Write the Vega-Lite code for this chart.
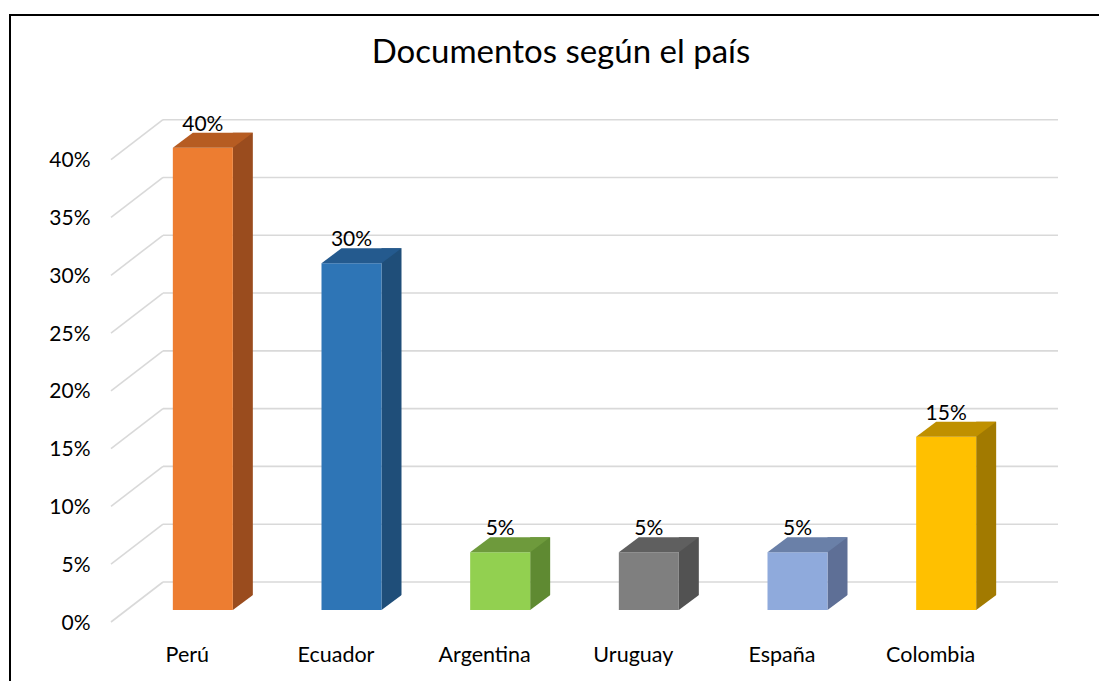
{
  "$schema": "https://vega.github.io/schema/vega-lite/v6.json",
  "autosize": "none",
  "width": 1102,
  "height": 680,
  "padding": {"left": 10, "top": 15, "right": 0, "bottom": 0},
  "background": "white",
  "config": {
    "view": {"stroke": "black", "strokeWidth": 2},
    "font": "Lato"
  },
  "title": {
    "text": "Documentos según el país",
    "font": "Lato",
    "fontSize": 33,
    "fontWeight": "normal",
    "color": "#000000",
    "anchor": "middle",
    "baseline": "alphabetic",
    "offset": -81
  },
  "datasets": {
    "bars": [
      {"pais": "Perú", "valor": 0.40},
      {"pais": "Ecuador", "valor": 0.30},
      {"pais": "Argentina", "valor": 0.05},
      {"pais": "Uruguay", "valor": 0.05},
      {"pais": "España", "valor": 0.05},
      {"pais": "Colombia", "valor": 0.15}
    ],
    "ticks": [
      {"v": 0}, {"v": 0.05}, {"v": 0.10}, {"v": 0.15}, {"v": 0.20},
      {"v": 0.25}, {"v": 0.30}, {"v": 0.35}, {"v": 0.40}
    ]
  },
  "resolve": {"scale": {"color": "independent"}},
  "layer": [
    {
      "data": {"name": "ticks"},
      "mark": {"type": "rule", "color": "#D9D9D9", "strokeWidth": 1.6, "xOffset": 50, "x2Offset": 53, "yOffset": -28},
      "encoding": {
        "x": {"datum": "Perú", "bandPosition": 0, "type": "nominal", "scale": {"domain": ["Perú", "Ecuador", "Argentina", "Uruguay", "España", "Colombia"], "range": [103, 995], "paddingInner": 0, "paddingOuter": 0},
          "axis": {"title": null, "orient": "bottom", "offset": -34, "domain": false, "ticks": false, "tickSize": 0, "labelPadding": 0, "labelBaseline": "alphabetic", "labelFont": "Lato", "labelFontSize": 21.5, "labelColor": "#000000", "labelAngle": 0, "grid": false}},
        "x2": {"datum": "Colombia", "bandPosition": 1},
        "y": {"field": "v", "type": "quantitative", "scale": {"domain": [0, 0.4], "range": [595, 132.7], "nice": false, "zero": true},
          "axis": {"title": null, "format": ".0%", "values": [0, 0.05, 0.1, 0.15, 0.2, 0.25, 0.3, 0.35, 0.4], "offset": -88, "domain": false, "ticks": false, "tickSize": 0, "labelPadding": 8, "labelOffset": 13, "labelBaseline": "middle", "labelFont": "Lato", "labelFontSize": 21, "labelColor": "#000000", "grid": false}}
      }
    },
    {
      "data": {"name": "ticks"},
      "mark": {"type": "rule", "color": "#D9D9D9", "strokeWidth": 1.6, "xOffset": -2, "x2Offset": 50, "yOffset": 12, "y2Offset": -28},
      "encoding": {
        "x": {"datum": "Perú", "bandPosition": 0, "type": "nominal"},
        "x2": {"datum": "Perú", "bandPosition": 0},
        "y": {"field": "v", "type": "quantitative"},
        "y2": {"field": "v"}
      }
    },
    {
      "data": {"name": "bars"},
      "mark": {"type": "bar", "width": 20, "xOffset": 55.5, "yOffset": -15},
      "encoding": {
        "x": {"field": "pais", "type": "nominal"},
        "y": {"field": "valor", "type": "quantitative"},
        "y2": {"datum": 0},
        "color": {"field": "pais", "type": "nominal", "legend": null,
          "scale": {"domain": ["Perú", "Ecuador", "Argentina", "Uruguay", "España", "Colombia"], "range": ["#9A4C1E", "#1F4E79", "#5F8A32", "#525252", "#5E6F96", "#A27A00"]}}
      }
    },
    {
      "data": {"name": "bars"},
      "mark": {"type": "point", "shape": "M30,0L50.5,-15.3L51,-15.3L51,1L29.5,1Z", "size": 4, "filled": true, "opacity": 1, "strokeWidth": 0, "color": "white", "xOffset": 15.5},
      "encoding": {
        "x": {"field": "pais", "type": "nominal"},
        "y": {"datum": 0, "type": "quantitative"}
      }
    },
    {
      "data": {"name": "bars"},
      "mark": {"type": "bar", "width": 60, "xOffset": 15.5},
      "encoding": {
        "x": {"field": "pais", "type": "nominal"},
        "y": {"field": "valor", "type": "quantitative"},
        "y2": {"datum": 0},
        "color": {"field": "pais", "type": "nominal", "legend": null,
          "scale": {"domain": ["Perú", "Ecuador", "Argentina", "Uruguay", "España", "Colombia"], "range": ["#ED7D31", "#2E75B6", "#92D050", "#7F7F7F", "#8FAADC", "#FFC000"]}}
      }
    },
    {
      "data": {"name": "bars"},
      "mark": {"type": "point", "shape": "M-30,0L30,0L50,-15L-10,-15Z", "size": 4, "filled": true, "opacity": 1, "strokeWidth": 0, "xOffset": 15.5},
      "encoding": {
        "x": {"field": "pais", "type": "nominal"},
        "y": {"field": "valor", "type": "quantitative"},
        "color": {"field": "pais", "type": "nominal", "legend": null,
          "scale": {"domain": ["Perú", "Ecuador", "Argentina", "Uruguay", "España", "Colombia"], "range": ["#B65C22", "#245A8E", "#6E9A3C", "#5F5F5F", "#6A80A8", "#BF9000"]}}
      }
    },
    {
      "data": {"name": "bars"},
      "mark": {"type": "text", "font": "Lato", "fontSize": 21, "color": "#000000", "baseline": "alphabetic", "align": "center", "xOffset": 15.5, "dy": -17},
      "encoding": {
        "x": {"field": "pais", "type": "nominal"},
        "y": {"field": "valor", "type": "quantitative"},
        "text": {"field": "valor", "type": "quantitative", "format": ".0%"}
      }
    }
  ]
}
